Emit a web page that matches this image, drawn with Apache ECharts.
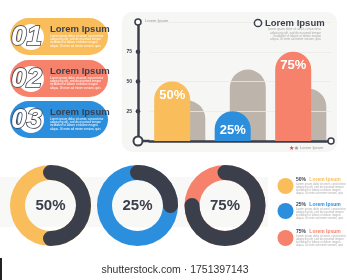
<!DOCTYPE html>
<html>
<head>
<meta charset="utf-8">
<script src="https://cdn.jsdelivr.net/npm/echarts@6/dist/echarts.min.js"></script>
<style>
  html, body { margin: 0; padding: 0; background: #fff; }
  #root { width: 347px; height: 280px; }
</style>
</head>
<body>
<div id="root"></div>
<script>
// data
const categories = ['A', 'B', 'C']
const mainValues = [50, 25, 75]
const backValues = [34, 60, 44]
const yTicks = [25, 50, 75]
const donutValues = [50, 25, 75]
const stepLabels = ['01', '02', '03']
const legendLabels = ['50%', '25%', '75%']

const colors = ['#F9BD5B', '#2B8FDD', '#F6826C']
const pillColors = ['#F9BD5B', '#F6826C', '#2B8FDD']
const dark = '#3B3F4B'
const grey = '#BDB4AC'
const font = 'Liberation Sans'
const lorem = 'Lorem ipsum dolor sit amet, consectetur\nadipiscing elit, sed do eiusmod tempor\nincididunt ut labore et dolore magna\naliqua. Ut enim ad minim veniam, quis'

const gridLeft = 149.5
const axisOffset = 11.5

const chart = echarts.init(document.getElementById('root'), null, { renderer: 'canvas' })

const donutCenters = [[50.5, 205.5], [137.5, 205.5], [225, 205.5]]

const gauges = donutValues.map((v, i) => ({
  type: 'gauge',
  center: donutCenters[i],
  radius: 40.5,
  startAngle: 90,
  endAngle: -270,
  min: 0,
  max: 100,
  pointer: { show: false },
  anchor: { show: false },
  axisTick: { show: false },
  splitLine: { show: false },
  axisLabel: { show: false },
  title: { show: false },
  axisLine: { lineStyle: { width: 15, color: [[1, colors[i]]] } },
  progress: { show: true, roundCap: true, width: 15, itemStyle: { color: dark } },
  detail: {
    offsetCenter: [0, 0],
    formatter: '{value}%',
    fontSize: 15,
    fontWeight: 'bold',
    fontFamily: font,
    color: dark
  },
  data: [{ value: v }]
}))

chart.setOption({
  backgroundColor: '#fff',
  animation: false,
  grid: { left: gridLeft, right: 16, top: 22, bottom: 139 },
  xAxis: {
    type: 'category',
    data: categories,
    axisLine: { lineStyle: { color: dark, width: 2.5 } },
    axisTick: { show: false },
    axisLabel: { show: false },
    z: 3
  },
  yAxis: {
    type: 'value',
    min: 0,
    max: 100,
    interval: 25,
    offset: axisOffset,
    axisLine: { show: true, lineStyle: { color: dark, width: 2.5 } },
    axisTick: { show: false },
    axisLabel: {
      formatter: v => (v > 0 && v < 100 ? String(v) : ''),
      fontSize: 5,
      fontWeight: 'bold',
      color: dark,
      fontFamily: font,
      margin: 6
    },
    splitLine: { lineStyle: { color: '#EBEBE8', width: 0.8 } },
    z: 3
  },
  series: [
    {
      type: 'bar',
      data: mainValues.map((v, i) => ({
        value: v,
        itemStyle: { color: colors[i] },
        label: { distance: v < 40 ? 13 : 7 }
      })),
      barWidth: 36,
      barGap: '-58%',
      z: 4,
      itemStyle: { borderRadius: [18, 18, 0, 0] },
      label: {
        show: true,
        position: 'insideTop',
        formatter: '{c}%',
        color: '#fff',
        fontSize: 13,
        fontWeight: 'bold',
        fontFamily: font
      }
    },
    {
      type: 'bar',
      data: backValues,
      barWidth: 36,
      z: 2,
      itemStyle: { color: grey, borderRadius: [18, 18, 0, 0] }
    },
    ...gauges
  ]
})

// decorations
const axisX = gridLeft - axisOffset
const y0 = chart.convertToPixel({ yAxisIndex: 0 }, 0)
const yTop = chart.convertToPixel({ yAxisIndex: 0 }, 100)
const xEnd = 347 - 16

const els = []
// panel
els.push({ type: 'rect', z: -10, shape: { x: 122, y: 12, width: 215, height: 140, r: 10 }, style: { fill: '#F6F6F4' } })
// band behind donuts
els.push({ type: 'rect', z: -10, shape: { x: 0, y: 177, width: 268, height: 50 }, style: { fill: '#F8F8F7' } })

// axis extension and rings
els.push({ type: 'line', z: 5, shape: { x1: axisX, y1: y0, x2: gridLeft, y2: y0 }, style: { stroke: dark, lineWidth: 2.5 } })
els.push({ type: 'circle', z: 6, shape: { cx: axisX, cy: y0, r: 4.5 }, style: { fill: '#fff', stroke: dark, lineWidth: 2 } })
els.push({ type: 'circle', z: 6, shape: { cx: axisX, cy: yTop, r: 3 }, style: { fill: '#fff', stroke: dark, lineWidth: 1.5 } })
els.push({ type: 'circle', z: 6, shape: { cx: xEnd, cy: y0, r: 3 }, style: { fill: '#fff', stroke: dark, lineWidth: 1.5 } })
yTicks.forEach(t => {
  els.push({ type: 'circle', z: 6, shape: { cx: axisX, cy: chart.convertToPixel({ yAxisIndex: 0 }, t), r: 2.3 }, style: { fill: dark } })
})

// panel texts
els.push({ type: 'text', z: 6, x: 145, y: 21, style: { text: 'Lorem Ipsum', fontSize: 4, fill: '#999', fontFamily: font, verticalAlign: 'middle' } })
els.push({ type: 'circle', z: 6, shape: { cx: 258, cy: 23, r: 3.6 }, style: { fill: '#fff', stroke: dark, lineWidth: 1.5 } })
els.push({ type: 'text', z: 6, x: 265, y: 23, style: { text: 'Lorem Ipsum', fontSize: 9.5, fontWeight: 'bold', fill: dark, fontFamily: font, verticalAlign: 'middle' } })
els.push({ type: 'text', z: 6, x: 321, y: 28, style: { text: lorem, fontSize: 3, lineHeight: 3.2, fill: '#AAA', fontFamily: font, align: 'right', verticalAlign: 'top' } })
// bottom legend of panel
els.push({ type: 'text', z: 6, x: 291, y: 148, style: { text: '★', fontSize: 6, fill: '#E0443A', align: 'center', verticalAlign: 'middle' } })
els.push({ type: 'circle', z: 6, shape: { cx: 296.5, cy: 148, r: 1.6 }, style: { fill: '#A8A39E' } })
els.push({ type: 'text', z: 6, x: 300, y: 148, style: { text: 'Lorem Ipsum', fontSize: 4, fill: '#999', fontFamily: font, verticalAlign: 'middle' } })

// left pills
const pillTops = [18, 60, 101]
pillTops.forEach((top, i) => {
  els.push({ type: 'rect', z: 1, shape: { x: 10, y: top, width: 98, height: 37, r: 18.5 }, style: { fill: pillColors[i] } })
  els.push({ type: 'circle', z: 2, shape: { cx: 31, cy: top + 19, r: 13 }, style: { fill: '#fff' } })
  els.push({ type: 'text', z: 3, x: 11, y: top + 19, style: {
    text: stepLabels[i], fontSize: 28, fontWeight: 'bold', fontStyle: 'italic', fontFamily: font,
    fill: '#fff', stroke: dark, lineWidth: 1.6, verticalAlign: 'middle'
  } })
  els.push({ type: 'text', z: 3, x: 50, y: top + 11, style: { text: 'Lorem Ipsum', fontSize: 9.5, fontWeight: 'bold', fill: dark, fontFamily: font, verticalAlign: 'middle' } })
  els.push({ type: 'text', z: 3, x: 50, y: top + 16, style: { text: lorem, fontSize: 3, lineHeight: 3.4, fill: '#fff', fontFamily: font, verticalAlign: 'top' } })
})

// right donut legend
const legendY = [186, 211, 238]
legendY.forEach((cy, i) => {
  els.push({ type: 'circle', z: 2, shape: { cx: 285.5, cy: cy, r: 8 }, style: { fill: colors[i] } })
  els.push({ type: 'text', z: 2, x: 296, y: cy - 6, style: {
    text: '{a|' + legendLabels[i] + '} {b|Lorem Ipsum}',
    rich: {
      a: { fontSize: 5, fontWeight: 'bold', fill: dark, fontFamily: font },
      b: { fontSize: 5, fontWeight: 'bold', fill: colors[i], fontFamily: font }
    },
    verticalAlign: 'middle'
  } })
  els.push({ type: 'text', z: 2, x: 296, y: cy - 3, style: { text: lorem, fontSize: 2.8, lineHeight: 3, fill: '#AAA', fontFamily: font, verticalAlign: 'top' } })
})

// footer
els.push({ type: 'rect', z: 1, shape: { x: 0, y: 258, width: 347, height: 22 }, style: { fill: '#fff' } })
els.push({ type: 'rect', z: 2, shape: { x: 0, y: 258, width: 2, height: 22 }, style: { fill: '#222' } })
els.push({ type: 'text', z: 2, x: 175, y: 270, style: { text: 'shutterstock.com · 1751397143', fontSize: 10.5, fill: '#333', fontFamily: font, align: 'center', verticalAlign: 'middle' } })

chart.setOption({ graphic: { elements: els } })
</script>
</body>
</html>
